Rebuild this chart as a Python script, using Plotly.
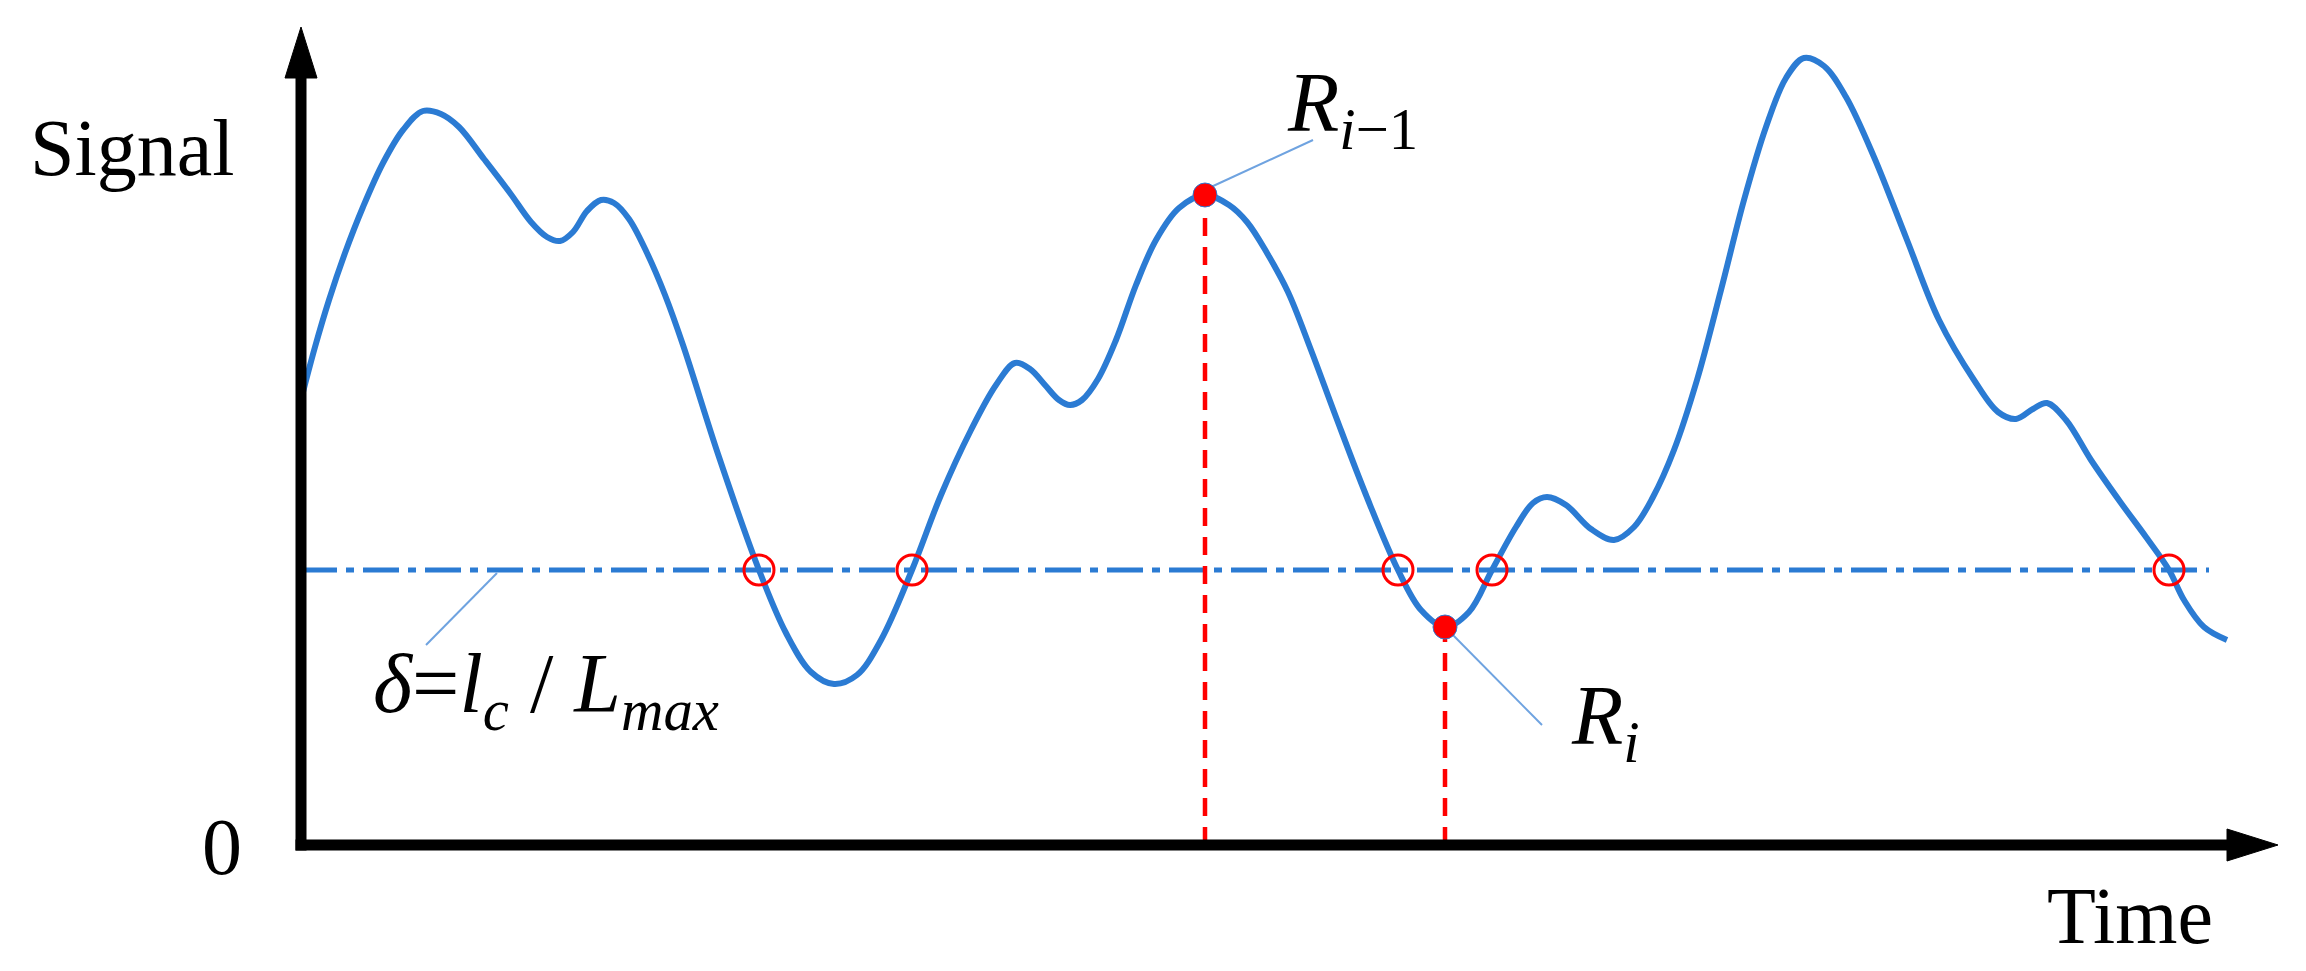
import plotly.graph_objects as go

# ---------- data (time / signal units) ----------
time = [0.2, 1.4, 2.8, 4.4, 6.2, 8.2, 10.2, 12.2, 14.0, 15.8,
        18.3, 20.9, 23.0, 24.6, 25.9, 27.2, 28.6, 30.0, 31.3, 32.8,
        34.6, 36.4, 38.2, 41.8, 45.8, 48.5, 51.0, 53.3, 55.6, 58.0,
        61.1, 64.0, 67.0, 69.5, 71.4, 72.9, 74.4, 75.8, 76.9, 78.1,
        79.7, 81.5, 83.5, 85.5, 87.8, 90.4, 92.8, 94.6, 96.6, 98.7,
        101.0, 103.5, 106.5, 109.7, 112.0, 114.4, 116.8, 119.1, 121.5, 123.2,
        124.6, 126.5, 129.0, 131.3, 133.3, 135.2, 137.3, 139.6, 142.0, 144.3,
        146.5, 148.5, 150.3, 152.3, 154.5, 157.3, 160.6, 163.8, 167.3, 169.7,
        171.5, 173.2, 174.6, 176.5, 179.0, 182.0, 184.5, 186.8, 188.3, 190.3,
        192.6]
signal = [45.3, 49.8, 54.5, 59.2, 63.8, 68.2, 71.5, 73.4, 73.1, 71.8,
          68.6, 65.2, 62.3, 60.8, 60.4, 61.3, 63.4, 64.5, 64.2, 62.6,
          59.2, 55.0, 50.0, 38.8, 27.5, 21.2, 17.3, 16.1, 17.0, 20.5,
          27.5, 35.0, 41.5, 46.0, 48.2, 47.6, 46.0, 44.5, 44.0, 44.5,
          46.6, 50.5, 56.0, 60.5, 63.7, 65.0, 64.0, 62.3, 59.2, 55.3,
          49.5, 42.8, 35.0, 27.5, 23.5, 21.8, 23.3, 27.5, 31.8, 34.2,
          34.8, 34.0, 31.6, 30.5, 31.8, 34.8, 39.5, 46.5, 55.5, 64.5,
          71.8, 76.7, 78.7, 77.9, 74.8, 68.8, 60.5, 52.5, 46.5, 43.3,
          42.6, 43.6, 44.2, 42.5, 38.5, 34.2, 30.8, 27.5, 24.5, 21.8,
          20.5]

threshold = 27.5
threshold_end = 190.8
cross_t = [45.8, 61.1, 109.7, 119.1, 186.8]

peak_t = [90.4, 114.4]          # R_{i-1}, R_i
peak_s = [65.0, 21.8]

x_max, y_max = 197.7, 81.8      # arrow tips of the axes

BLUE = "#2b7bd3"
LEAD = "#6fa3e0"
RED = "#ff0000"

fig = go.Figure()

# threshold line (dash-dot)
fig.add_trace(go.Scatter(
    x=[0, threshold_end], y=[threshold, threshold], mode="lines",
    line=dict(color=BLUE, width=5, dash="36px,9px,8px,9px")))

# red dashed drops from R_{i-1} and R_i
for t, s in zip(peak_t, peak_s):
    fig.add_trace(go.Scatter(
        x=[t, t], y=[0, s], mode="lines",
        line=dict(color=RED, width=4.5, dash="18px,11px")))

# signal curve
fig.add_trace(go.Scatter(
    x=time, y=signal, mode="lines",
    line=dict(color=BLUE, width=6, shape="spline", smoothing=1.0)))

# leader lines for the labels
leaders = [([91.0, 101.2], [65.8, 70.5]),
           ([114.7, 124.1], [21.5, 12.0]),
           ([19.6, 12.5], [27.2, 20.0])]
for lx, ly in leaders:
    fig.add_trace(go.Scatter(x=lx, y=ly, mode="lines",
                             line=dict(color=LEAD, width=2)))

# crossings with the threshold
fig.add_trace(go.Scatter(
    x=cross_t, y=[threshold] * len(cross_t), mode="markers",
    marker=dict(symbol="circle-open", size=30, color=RED,
                line=dict(color=RED, width=3))))

# R points
fig.add_trace(go.Scatter(
    x=peak_t, y=peak_s, mode="markers",
    marker=dict(symbol="circle", size=24, color=RED,
                line=dict(color=BLUE, width=1))))

# axes with arrow heads
head_len, head_half = 5.1, 1.6
fig.add_shape(type="line", x0=0, y0=-0.55, x1=0, y1=y_max - head_len,
              line=dict(color="black", width=11))
fig.add_shape(type="line", x0=-0.55, y0=0, x1=x_max - head_len, y1=0,
              line=dict(color="black", width=11))
fig.add_shape(type="path",
              path=f"M {-head_half} {y_max - head_len} L 0 {y_max} L {head_half} {y_max - head_len} Z",
              fillcolor="black", line=dict(color="black", width=1))
fig.add_shape(type="path",
              path=f"M {x_max - head_len} {-head_half} L {x_max} 0 L {x_max - head_len} {head_half} Z",
              fillcolor="black", line=dict(color="black", width=1))

serif = "Liberation Serif, Times New Roman, serif"
txt = dict(showarrow=False, font=dict(family=serif, size=80, color="black"))
math = dict(showarrow=False, font=dict(family=serif, size=84, color="black"))

fig.add_annotation(x=-16.95, y=69.7, text="Signal", xanchor="center", yanchor="middle", **txt)
fig.add_annotation(x=-7.9, y=-0.2, text="0", xanchor="center", yanchor="middle", **txt)
fig.add_annotation(x=182.9, y=-7.1, text="Time", xanchor="center", yanchor="middle", **txt)

fig.add_annotation(x=98.4, y=73.6, text="<i>R</i><sub><i>i</i>−1</sub>",
                   xanchor="left", yanchor="middle", **math)
fig.add_annotation(x=126.8, y=12.3, text="<i>R</i><sub><i>i</i></sub>",
                   xanchor="left", yanchor="middle", **math)
fig.add_annotation(x=7.0, y=15.5,
                   text="<i>δ</i>=<i>l</i><sub><i>c</i></sub> / <i>L</i><sub><i>max</i></sub>",
                   xanchor="left", yanchor="middle", **math)

fig.update_xaxes(visible=False, range=[-30.1, 200.5])
fig.update_yaxes(visible=False, range=[-12.6, 84.5])
fig.update_layout(
    width=2306, height=971,
    margin=dict(l=0, r=0, t=0, b=0),
    plot_bgcolor="white", paper_bgcolor="white",
    showlegend=False,
)

fig.write_html("out.html", config={"displayModeBar": False},
               post_script="document.body.style.margin='0';document.body.style.overflow='hidden';")
